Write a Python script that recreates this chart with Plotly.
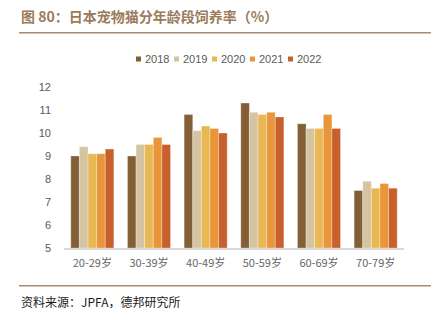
import plotly.graph_objects as go

categories = ["20-29岁", "30-39岁", "40-49岁", "50-59岁", "60-69岁", "70-79岁"]
years = ["2018", "2019", "2020", "2021", "2022"]
v2018 = [9.0, 9.0, 10.8, 11.3, 10.4, 7.5]
v2019 = [9.4, 9.5, 10.1, 10.9, 10.2, 7.9]
v2020 = [9.1, 9.5, 10.3, 10.8, 10.2, 7.6]
v2021 = [9.1, 9.8, 10.2, 10.9, 10.8, 7.8]
v2022 = [9.3, 9.5, 10.0, 10.7, 10.2, 7.6]
series = [v2018, v2019, v2020, v2021, v2022]
colors = ["#835F35", "#D5C4A1", "#EAB853", "#E9963B", "#C8602E"]
y_ticks = [5, 6, 7, 8, 9, 10, 11, 12]

W, H = 438, 323
fig = go.Figure()
for name, vals, c in zip(years, series, colors):
    fig.add_trace(go.Bar(
        x=categories, y=[v - 5 for v in vals], base=5, name=name,
        marker=dict(color=c, line=dict(color="rgba(255,255,255,0.6)", width=0.5)),
        showlegend=False,
    ))

font_cjk = "Noto Sans CJK SC, Noto Sans, sans-serif"
fig.update_layout(
    width=W, height=H,
    margin=dict(l=64, r=34, t=87, b=75),
    paper_bgcolor="white", plot_bgcolor="white",
    barmode="group", bargap=0.24, bargroupgap=0,
    font=dict(family=font_cjk, size=11, color="#595959"),
    xaxis=dict(showline=True, linecolor="#D9D9D9", linewidth=1.5, ticks="",
               ticklabelstandoff=4,
               tickfont=dict(size=11, color="#666666"), showgrid=False),
    yaxis=dict(range=[5, 12], tickvals=y_ticks, showgrid=False, zeroline=False,
               showline=False, ticks="", ticklabelstandoff=12,
               tickfont=dict(size=11, color="#595959", family="Liberation Sans, Arial")),
)

def px_x(x):
    return (x - 64) / 340

def px_y(y):
    return (248 - y) / 161

# Header and footer rules
for yy in (32.8, 285.8):
    fig.add_shape(type="line", xref="paper", yref="paper",
                  x0=px_x(19), x1=px_x(431), y0=px_y(yy), y1=px_y(yy),
                  line=dict(color="#A98A6C", width=1.6))

fig.add_annotation(text="<b>图 80：日本宠物猫分年龄段饲养率（%）</b>", xref="paper", yref="paper",
                   x=px_x(19), y=px_y(16), xanchor="left", yanchor="middle", showarrow=False,
                   font=dict(size=14, color="#9C7B5C", family=font_cjk))
fig.add_annotation(text="资料来源：JPFA，德邦研究所", xref="paper", yref="paper",
                   x=px_x(19), y=px_y(301), xanchor="left", yanchor="middle", showarrow=False,
                   font=dict(size=12, color="#1A1A1A", family=font_cjk))

# Legend
for i, (name, c) in enumerate(zip(years, colors)):
    x0 = 136 + 38 * i
    fig.add_shape(type="rect", xref="paper", yref="paper",
                  x0=px_x(x0), x1=px_x(x0 + 5), y0=px_y(61.5), y1=px_y(56.5),
                  fillcolor=c, line=dict(width=0))
    fig.add_annotation(text=name, xref="paper", yref="paper",
                       x=px_x(x0 + 7), y=px_y(59), xanchor="left", yanchor="middle",
                       showarrow=False,
                       font=dict(size=11, color="#595959", family="Liberation Sans, Arial"))

fig.write_html("out.html")
